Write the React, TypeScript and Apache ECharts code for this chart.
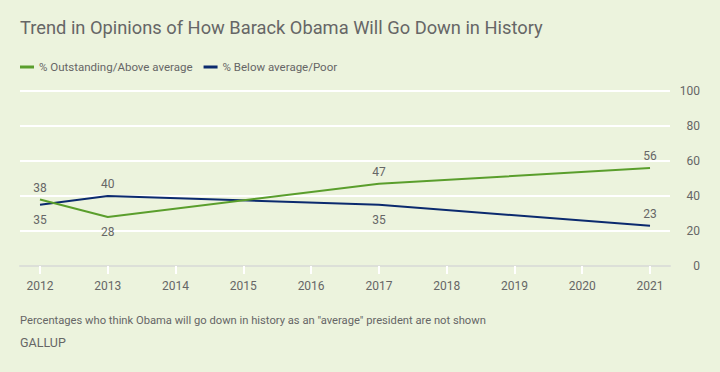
import React, { useEffect, useRef } from "react";
import * as echarts from "echarts";

const years = [2012, 2013, 2017, 2021];
const outstanding = [38, 28, 47, 56];
const belowAverage = [35, 40, 35, 23];
const outstandingLabelPos = ["top", "bottom", "top", "top"];
const belowLabelPos = ["bottom", "top", "bottom", "top"];
const xTicks = [2012, 2013, 2014, 2015, 2016, 2017, 2018, 2019, 2020, 2021];
const seriesNames = ["% Outstanding/Above average", "% Below average/Poor"];
const titleText = "Trend in Opinions of How Barack Obama Will Go Down in History";
const noteText = 'Percentages who think Obama will go down in history as an "average" president are not shown';

const FONT = "Roboto, sans-serif";
const GREEN = "#5a9e2c";
const NAVY = "#0b2a6e";
const GREY = "#666666";

export default function App() {
  const ref = useRef<HTMLDivElement>(null);
  useEffect(() => {
    if (!ref.current) return;
    const chart = echarts.init(ref.current, undefined, { renderer: "svg" });
    const mk = (vals: number[], pos: string[]) =>
      vals.map((v, i) => ({
        value: [years[i], v],
        label: { position: pos[i], distance: pos[i] === "top" ? 6 : 9 },
      }));
    const lbl = { show: true, color: GREY, fontFamily: FONT, fontSize: 12, formatter: (p: any) => String(p.value[1]) };
    chart.setOption({
      animation: false,
      backgroundColor: "#ecf3dd",
      textStyle: { fontFamily: FONT },
      title: {
        text: titleText,
        left: 20,
        top: 18,
        padding: 0,
        textStyle: { fontFamily: FONT, fontSize: 18.3, fontWeight: "normal", color: GREY },
      },
      legend: {
        left: 20,
        top: 61,
        padding: 0,
        icon: "rect",
        itemWidth: 14,
        itemHeight: 3,
        itemGap: 11,
        textStyle: { fontFamily: FONT, fontSize: 11.5, color: GREY },
        data: seriesNames,
      },
      grid: { left: 20, right: 50, top: 91, bottom: 106 },
      xAxis: {
        type: "value",
        min: 2011.705,
        max: 2021.295,
        splitLine: { show: false },
        axisLine: { show: true, lineStyle: { color: "#dcdfd8", width: 2 } },
        axisTick: { show: true, customValues: xTicks, length: 8, lineStyle: { color: "#ffffff", width: 2 } },
        axisLabel: {
          customValues: xTicks,
          formatter: (v: number) => String(v),
          color: GREY,
          fontFamily: FONT,
          fontSize: 12,
          margin: 14,
        },
      },
      yAxis: {
        type: "value",
        position: "right",
        min: 0,
        max: 100,
        interval: 20,
        axisLine: { show: false },
        axisTick: { show: false },
        splitLine: { lineStyle: { color: "#ffffff", width: 2 } },
        axisLabel: { color: GREY, fontFamily: FONT, fontSize: 12, align: "right", margin: 30 },
      },
      series: [
        {
          name: seriesNames[0],
          type: "line",
          data: mk(outstanding, outstandingLabelPos),
          symbol: "circle",
          symbolSize: 0,
          showSymbol: true,
          lineStyle: { color: GREEN, width: 2 },
          itemStyle: { color: GREEN },
          label: lbl,
          z: 3,
        },
        {
          name: seriesNames[1],
          type: "line",
          data: mk(belowAverage, belowLabelPos),
          symbol: "circle",
          symbolSize: 0,
          showSymbol: true,
          lineStyle: { color: NAVY, width: 2 },
          itemStyle: { color: NAVY },
          label: lbl,
          z: 2,
        },
      ],
      graphic: [
        {
          type: "text",
          left: 20,
          top: 315,
          style: { text: noteText, fill: GREY, font: `11.2px ${FONT}` },
        },
        {
          type: "text",
          left: 20,
          top: 336,
          style: { text: "GALLUP", fill: GREY, font: `12.5px ${FONT}` },
        },
      ],
    });
    return () => chart.dispose();
  }, []);
  return <div ref={ref} style={{ width: 720, height: 372, position: "absolute", left: 0, top: 0 }} />;
}
